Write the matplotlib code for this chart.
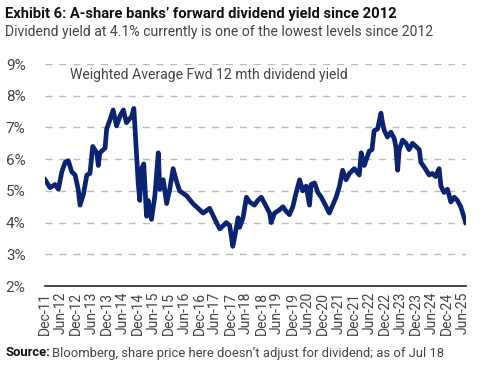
import matplotlib
matplotlib.use("Agg")
import matplotlib.pyplot as plt

# weighted average fwd 12 mth dividend yield (%)
years = [2011.92, 2012.08, 2012.24, 2012.35, 2012.46, 2012.57, 2012.67, 2012.78, 2012.89, 2012.99,
         2013.05, 2013.16, 2013.27, 2013.37, 2013.46, 2013.59, 2013.64, 2013.69, 2013.86, 2013.91,
         2014.02, 2014.12, 2014.23, 2014.34, 2014.45, 2014.55, 2014.72, 2014.79, 2014.88, 2014.93,
         2014.98, 2015.04, 2015.11, 2015.20, 2015.25, 2015.36, 2015.47, 2015.58, 2015.63, 2015.74,
         2015.85, 2015.95, 2016.06, 2016.17, 2016.27, 2016.49, 2016.70, 2016.92, 2017.03, 2017.24,
         2017.46, 2017.57, 2017.78, 2017.89, 2017.99, 2018.05, 2018.16, 2018.21, 2018.32, 2018.43,
         2018.53, 2018.69, 2018.80, 2018.91, 2019.02, 2019.18, 2019.23, 2019.34, 2019.50, 2019.61,
         2019.72, 2019.82, 2019.93, 2020.04, 2020.15, 2020.25, 2020.36, 2020.47, 2020.52, 2020.63,
         2020.74, 2020.85, 2021.01, 2021.11, 2021.22, 2021.33, 2021.44, 2021.54, 2021.65, 2021.76,
         2021.92, 2022.08, 2022.14, 2022.24, 2022.40, 2022.49, 2022.56, 2022.67, 2022.78, 2022.83,
         2022.89, 2022.99, 2023.10, 2023.21, 2023.26, 2023.32, 2023.37, 2023.48, 2023.59, 2023.69,
         2023.80, 2023.91, 2024.02, 2024.07, 2024.18, 2024.34, 2024.44, 2024.55, 2024.66, 2024.72,
         2024.82, 2024.93, 2025.04, 2025.15, 2025.25, 2025.36, 2025.47, 2025.52]
yield_pct = [5.35, 5.10, 5.20, 5.05, 5.60, 5.90, 5.95, 5.60, 5.50, 5.05,
             4.55, 4.90, 5.50, 5.55, 6.40, 6.20, 5.80, 6.20, 6.35, 6.95,
             7.25, 7.55, 7.05, 7.35, 7.55, 7.15, 7.35, 7.60, 6.10, 5.25,
             4.70, 5.70, 5.85, 4.20, 4.70, 4.10, 4.85, 6.20, 5.05, 5.35,
             4.60, 5.05, 5.70, 5.30, 5.00, 4.85, 4.60, 4.40, 4.30, 4.45,
             4.00, 3.80, 4.00, 3.90, 3.25, 3.55, 4.15, 3.85, 4.15, 4.80,
             4.65, 4.55, 4.70, 4.80, 4.60, 4.30, 4.00, 4.30, 4.40, 4.50,
             4.35, 4.25, 4.50, 4.95, 5.35, 5.00, 5.15, 4.55, 5.20, 5.25,
             4.95, 4.80, 4.50, 4.30, 4.55, 4.80, 5.15, 5.65, 5.35, 5.55,
             5.70, 5.50, 6.20, 5.80, 6.25, 6.30, 6.90, 6.95, 7.45, 7.15,
             6.90, 6.70, 6.85, 6.65, 6.40, 5.65, 6.30, 6.60, 6.50, 6.30,
             6.50, 6.40, 6.30, 5.90, 5.75, 5.50, 5.55, 5.45, 5.70, 5.15,
             4.95, 5.05, 4.65, 4.80, 4.70, 4.50, 4.15, 4.00]

tick_labels = []
tick_pos = []
for yr in range(2011, 2026):
    for mon, name in [(6, "Jun"), (12, "Dec")]:
        if (yr == 2011 and mon == 6) or (yr == 2025 and mon == 12):
            continue
        tick_labels.append(f"{name}-{yr % 100:02d}")
        tick_pos.append(yr + (mon - 1) / 12)

navy = "#0a2472"
grey_txt = "#444444"
plt.rcParams["font.family"] = ["Roboto", "DejaVu Sans"]

fig = plt.figure(figsize=(4.81, 3.80), dpi=100)
ax = fig.add_axes([45 / 481, 1 - 286 / 380, 421 / 481, 222 / 380])

ax.plot(years, yield_pct, color=navy, lw=3.4, solid_joinstyle="round")

ax.set_ylim(2, 9)
ax.set_xlim(2011.92, 2025.53)
ax.set_yticks(range(2, 10))
ax.set_yticklabels([f"{v}%" for v in range(2, 10)])
ax.set_xticks(tick_pos)
ax.set_xticklabels(tick_labels, rotation=90)
ax.tick_params(axis="both", length=0, colors=grey_txt, labelsize=11)
ax.tick_params(axis="x", labelsize=10, pad=4)
ax.tick_params(axis="y", pad=14)

# dashed gridlines
for v in range(3, 10):
    ax.axhline(v, color="#bbbbbb", lw=1.0, ls=(0, (5, 5)), zorder=0)

for side in ["left", "right", "top"]:
    ax.spines[side].set_visible(False)
ax.spines["bottom"].set_color("#222222")
ax.spines["bottom"].set_linewidth(1.2)

ax.text(0.06, 0.95, "Weighted Average Fwd 12 mth dividend yield", transform=ax.transAxes,
        fontsize=10.1, color=grey_txt, va="center", ha="left")

fig.text(5 / 481, 1 - 14 / 380, "Exhibit 6: A-share banks\u2019 forward dividend yield since 2012",
         fontsize=10.6, fontweight="bold", color="#111111", va="center", ha="left")
fig.text(5 / 481, 1 - 32 / 380, "Dividend yield at 4.1% currently is one of the lowest levels since 2012",
         fontsize=10.1, color=grey_txt, va="center", ha="left")

src = fig.text(5 / 481, 1 - 353 / 380, "Source:", fontsize=9.4, fontweight="bold",
               color="#111111", va="center", ha="left")
fig.canvas.draw()
bb = src.get_window_extent()
fig.text(bb.x1 / 481 + 0.004, 1 - 353 / 380,
         "Bloomberg, share price here doesn\u2019t adjust for dividend; as of Jul 18",
         fontsize=9.4, color=grey_txt, va="center", ha="left")

fig.savefig("out.png", dpi=100)
